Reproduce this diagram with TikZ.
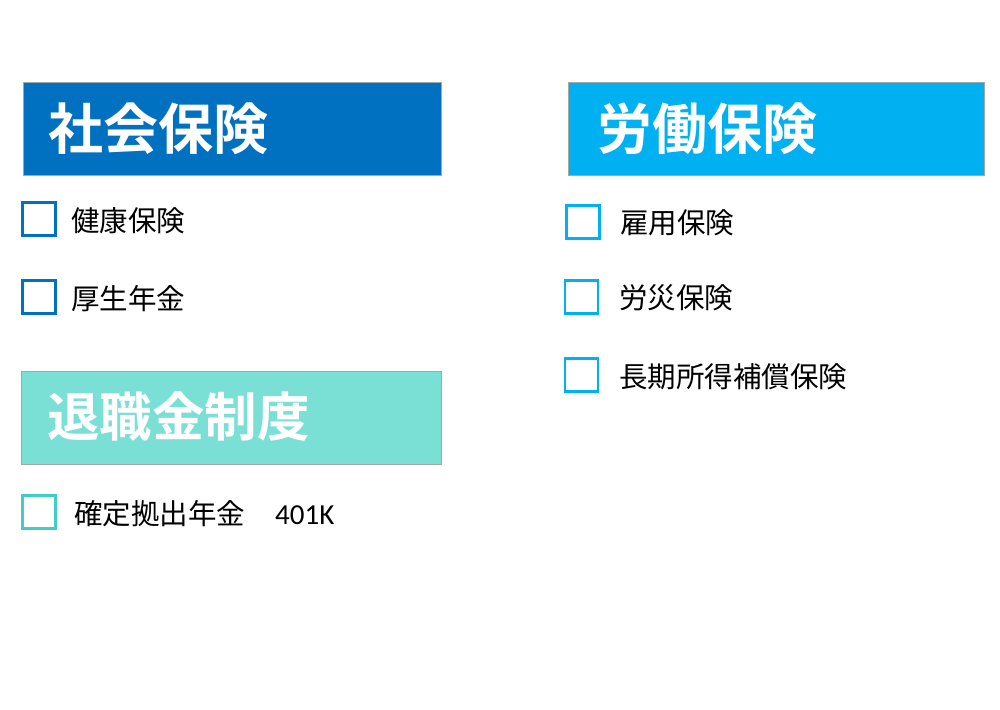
\documentclass[tikz,border=0pt]{standalone}
\usepackage{fontspec}
\newfontfamily\jp{Noto Sans CJK JP}
\newfontfamily\jpb{Noto Sans CJK JP Bold}
\newfontfamily\lat{Carlito}
\definecolor{dblue}{HTML}{0070C0}
\definecolor{cyanb}{HTML}{00B0F0}
\definecolor{tealb}{HTML}{7ADFD5}
\definecolor{tealc}{HTML}{40CFC4}
\begin{document}
\begin{tikzpicture}[x=1pt,y=-1pt,
  header/.style={draw=black!35,line width=0.8pt,anchor=north west,inner sep=0pt,minimum height=93pt},
  htext/.style={anchor=west,inner sep=0pt,text=white,font=\jpb\fontsize{#1}{60}\selectfont},
  htext/.default=55,
  cbox/.style={draw=#1,line width=2.6pt,minimum size=33pt,inner sep=0pt,fill=white},
  item/.style={anchor=west,inner sep=0pt,font=\jp\fontsize{28.5}{32}\selectfont},
]
\useasboundingbox (0,0) rectangle (1000,709);
\fill[white] (0,0) rectangle (1000,709);
% headers
\node[header,fill=dblue,minimum width=418pt] (h1) at (23,82) {};
\node[htext] (t1) at (48,129) {社会保険};
\node[header,fill=cyanb,minimum width=416pt] (h2) at (568,82) {};
\node[htext] (t2) at (597,129) {労働保険};
\node[header,fill=tealb,minimum width=420pt] (h3) at (21,371) {};
\node[htext=52.5] (t3) at (47,417) {退職金制度};
% left items
\node[cbox=dblue] (c1) at (39,219) {};
\node[item] (i1) at (71,221) {健康保険};
\node[cbox=dblue] (c2) at (39,297) {};
\node[item] (i2) at (71,299) {厚生年金};
% right items
\node[cbox=cyanb] (c3) at (583,222) {};
\node[item] (i3) at (620,223) {雇用保険};
\node[cbox=cyanb] (c4) at (581.5,297) {};
\node[item] (i4) at (619,298) {労災保険};
\node[cbox=cyanb] (c5) at (581.5,375) {};
\node[item] (i5) at (619,377) {長期所得補償保険};
% retirement
\node[cbox=tealc] (c6) at (39,512) {};
\node[item] (i6) at (74,514) {確定拠出年金};
\node[anchor=west,inner sep=0pt,font=\lat\fontsize{29}{34}\selectfont] (k) at (275,515) {401K};
\end{tikzpicture}
\end{document}
